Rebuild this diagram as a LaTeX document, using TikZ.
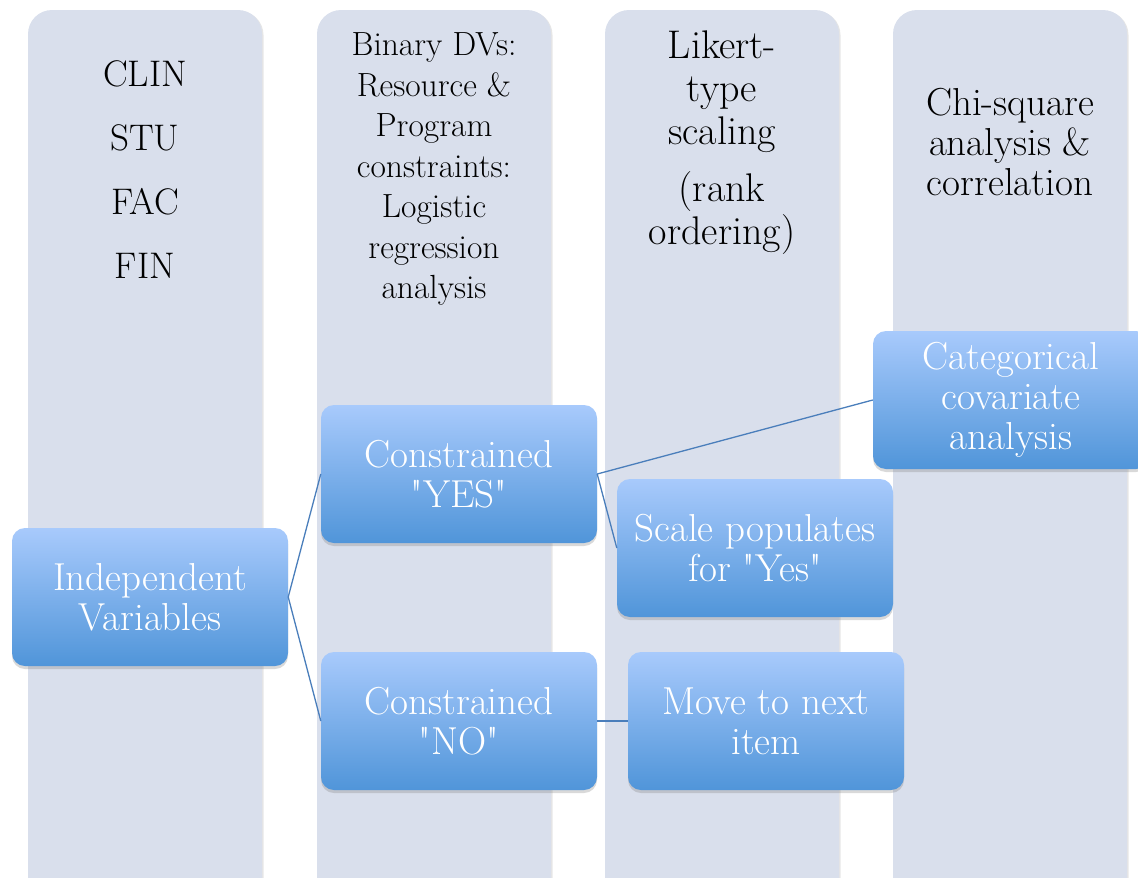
\documentclass[tikz,border=0pt]{standalone}
\usetikzlibrary{shadows}
\definecolor{lanefill}{HTML}{D9DFEC}
\definecolor{boxtop}{HTML}{A8CAFC}
\definecolor{boxbot}{HTML}{5095D9}
\definecolor{linkblue}{HTML}{4A7EBB}
\tikzset{
  lane/.style={fill=lanefill, rounded corners=24pt,
    drop shadow={shadow xshift=1.5pt, shadow yshift=-1pt, opacity=0.2}},
  lanetext/.style={align=center, font=\fontsize{36}{41}\selectfont},
  stepbox/.style={rounded corners=13pt, top color=boxtop, bottom color=boxbot,
    minimum width=276pt, minimum height=138pt, align=center, text=white,
    font=\fontsize{39}{40}\selectfont,
    drop shadow={shadow xshift=0pt, shadow yshift=-3pt, opacity=0.3}},
  link/.style={draw=linkblue, line width=1.3pt}
}
\begin{document}
\begin{tikzpicture}[x=1pt, y=-1pt]
  \useasboundingbox (0,0) rectangle (1138,878);
  \clip (0,0) rectangle (1138,878);
  % lanes
  \path[lane] (28,10) rectangle (262,910);
  \path[lane] (317,10) rectangle (551,910);
  \path[lane] (605,10) rectangle (839,910);
  \path[lane] (893,10) rectangle (1127,910);
  % lane headings
  \node[lanetext, font=\fontsize{37}{64}\selectfont] (vars) at (145,170) {CLIN\\STU\\FAC\\FIN};
  \node[lanetext, font=\fontsize{33.5}{40.5}\selectfont] (dvs) at (434,169) {Binary DVs:\\Resource \&\\Program\\constraints:\\Logistic\\regression\\analysis};
  \node[lanetext, font=\fontsize{40}{43}\selectfont] (likert) at (722,143) {Likert-\\type\\scaling\\[14pt](rank\\ordering)};
  \node[lanetext, font=\fontsize{39}{40}\selectfont] (chisq) at (1010,142) {Chi-square\\analysis \&\\correlation};
  % boxes
  \node[stepbox] (iv) at (150,597) {Independent\\Variables};
  \node[stepbox] (yes) at (459,474) {Constrained\\\textquotedbl YES\textquotedbl};
  \node[stepbox] (no) at (459,721) {Constrained\\\textquotedbl NO\textquotedbl};
  \node[stepbox] (scale) at (755,548) {Scale populates\\for \textquotedbl Yes\textquotedbl};
  \node[stepbox] (move) at (766,721) {Move to next\\item};
  \node[stepbox] (cat) at (1011,400) {Categorical\\covariate\\analysis};
  \begin{scope}[link]
    \draw (iv.east) to (yes.west);
    \draw (iv.east) to (no.west);
    \draw (yes.east) to (cat.west);
    \draw (yes.east) to (scale.west);
    \draw (no.east) to (move.west);
  \end{scope}
\end{tikzpicture}
\end{document}
